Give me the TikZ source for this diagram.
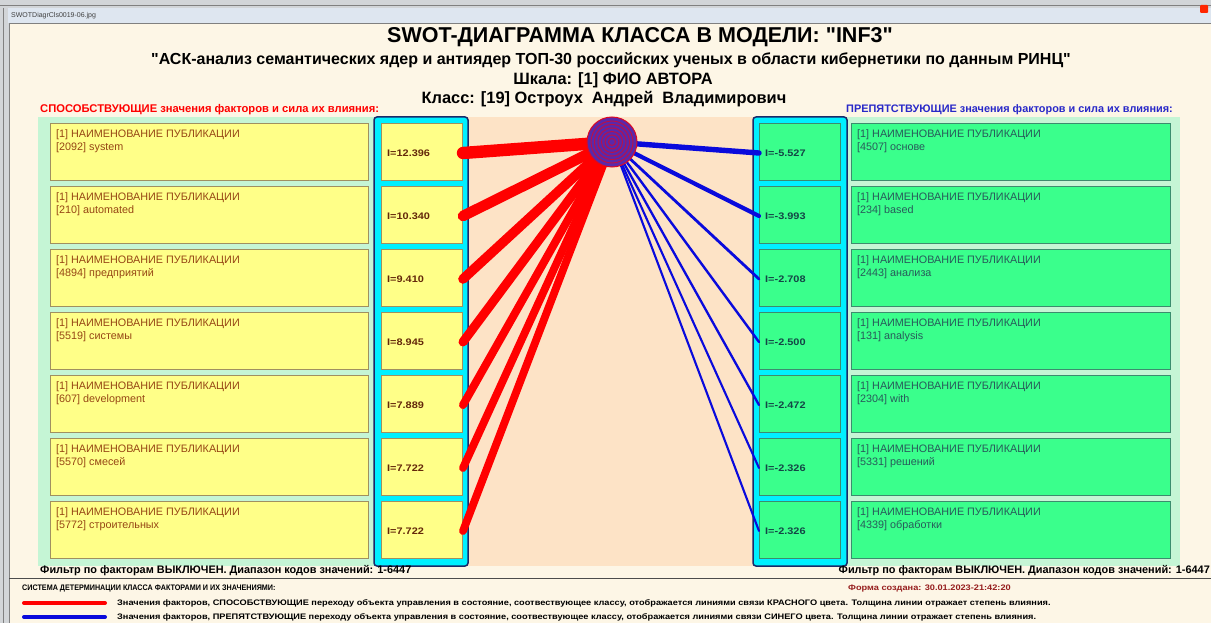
\documentclass[tikz,border=0pt]{standalone}
\usepackage{fontspec}
\setmainfont{Liberation Sans}[Ligatures=TeXOff]
\newfontfamily\condf{Liberation Sans}[FakeStretch=0.90,Ligatures=TeXOff]
\newfontfamily\widef{Liberation Sans}[FakeStretch=1.15,Ligatures=TeXOff]
\definecolor{cream}{RGB}{253,246,230}
\definecolor{peach}{RGB}{253,227,198}
\definecolor{palegreen}{RGB}{197,245,213}
\definecolor{ybox}{RGB}{255,255,136}
\definecolor{yborder}{RGB}{160,144,96}
\definecolor{gbox}{RGB}{58,255,140}
\definecolor{gborder}{RGB}{60,140,110}
\definecolor{cyancol}{RGB}{0,240,255}
\definecolor{navy}{RGB}{26,42,106}
\definecolor{ytext}{RGB}{150,70,20}
\definecolor{gtext}{RGB}{40,90,90}
\definecolor{yval}{RGB}{100,40,10}
\definecolor{gval}{RGB}{20,70,70}
\definecolor{redline}{RGB}{255,0,0}
\definecolor{blueline}{RGB}{10,10,220}
\definecolor{purp}{RGB}{90,40,170}
\definecolor{darkred}{RGB}{150,30,30}
\definecolor{headblue}{RGB}{40,40,200}
\definecolor{barcol}{RGB}{222,230,240}
\definecolor{framegrey}{RGB}{180,185,190}
\tikzset{
  leftbox/.style={draw=yborder, fill=ybox, line width=1pt, minimum width=318pt, minimum height=57pt, anchor=north west, inner sep=0pt},
  leftval/.style={draw=yborder, fill=ybox, line width=1pt, minimum width=81pt, minimum height=57pt, anchor=north west, inner sep=0pt},
  rightbox/.style={draw=gborder, fill=gbox, line width=1pt, minimum width=319pt, minimum height=57pt, anchor=north west, inner sep=0pt},
  rightval/.style={draw=gborder, fill=gbox, line width=1pt, minimum width=81pt, minimum height=57pt, anchor=north west, inner sep=0pt},
  boxtext/.style={anchor=north west, inner sep=0pt, align=left, font=\fontsize{10.8}{13}\selectfont},
  valtext/.style={anchor=west, inner sep=0pt, font=\widef\bfseries\fontsize{9.5}{11}\selectfont},
  column/.style={draw=navy, fill=cyancol, line width=1.5pt, rounded corners=3pt},
  redlink/.style={draw=redline, line cap=round},
  bluelink/.style={draw=blueline, line cap=round},
  legendtext/.style={anchor=west, inner sep=0pt, font=\widef\bfseries\fontsize{8}{9}\selectfont},
}
\begin{document}
\begin{tikzpicture}[x=1pt,y=-1pt]
\useasboundingbox (0,0) rectangle (1211,623);
% window frame
\fill[framegrey!60] (0,0) rectangle (1211,623);
\fill[barcol] (8,8) rectangle (1211,23);
\fill[cream] (10,24) rectangle (1211,623);
\draw[gray, line width=0.6pt] (0,5.5) -- (1211,5.5);
\draw[gray, line width=0.6pt] (3,8) -- (3,623);
\draw[gray, line width=0.6pt] (9,24) -- (9,623);
\draw[gray, line width=0.6pt] (9,23.5) -- (1211,23.5);
\node[anchor=west, inner sep=0pt, font=\fontsize{7}{8}\selectfont, text=black!75] (fname) at (11,15.5) {SWOTDiagrCls0019-06.jpg};
\node[fill=red!70!orange, minimum width=8pt, minimum height=8pt, inner sep=0pt, rounded corners=1pt] (closebtn) at (1204,9) {};
% headings
\node[font=\bfseries\fontsize{21.5}{24}\selectfont] (title) at (640,37) {SWOT-ДИАГРАММА КЛАССА В МОДЕЛИ: "INF3"};
\node[font=\bfseries\fontsize{16}{19}\selectfont] (subtitle) at (611,60) {"АСК-анализ семантических ядер и антиядер ТОП-30 российских ученых в области кибернетики по данным РИНЦ"};
\node[font=\bfseries\fontsize{16.4}{18}\selectfont] (scale) at (613,80) {Шкала: [1] ФИО АВТОРА};
\node[font=\bfseries\fontsize{16.4}{18}\selectfont] (class) at (604,99) {Класс: [19] Остроух\ \ Андрей\ \ Владимирович};
\node[anchor=west, inner sep=0pt, text=red, font=\bfseries\fontsize{11.2}{13}\selectfont] (lhead) at (40,110) {СПОСОБСТВУЮЩИЕ значения факторов и сила их влияния:};
\node[anchor=west, inner sep=0pt, text=headblue, font=\bfseries\fontsize{10.9}{13}\selectfont] (rhead) at (846,110) {ПРЕПЯТСТВУЮЩИЕ значения факторов и сила их влияния:};
% panels
\fill[palegreen] (38,117) rectangle (374,566);
\fill[palegreen] (847,117) rectangle (1180,566);
\fill[peach] (468,117) rectangle (753,566);
\draw[column] (374,117) rectangle (468,566);
\draw[column] (753,117) rectangle (847,566);
% circle centre
\coordinate (cc) at (612,142);
% left boxes
\foreach \code/\word/\val [count=\i from 0] in {
  2092/system/12.396, 210/automated/10.340, 4894/предприятий/9.410,
  5519/системы/8.945, 607/development/7.889, 5570/смесей/7.722,
  5772/строительных/7.722}{
  \node[leftbox] (L\i) at (50,{123+63*\i}) {};
  \node[boxtext, text=ytext] (LT\i) at ([xshift=6pt,yshift=-6pt]L\i.north west) {[1] НАИМЕНОВАНИЕ ПУБЛИКАЦИИ\\{}[\code] \word};
  \node[leftval] (LV\i) at (381,{123+63*\i}) {};
  \node[valtext, text=yval] (LVT\i) at ([xshift=6pt,yshift=-1.5pt]LV\i.west) {I=\val};
}
% right boxes
\foreach \code/\word/\val [count=\i from 0] in {
  4507/основе/-5.527, 234/based/-3.993, 2443/анализа/-2.708,
  131/analysis/-2.500, 2304/with/-2.472, 5331/решений/-2.326,
  4339/обработки/-2.326}{
  \node[rightbox] (R\i) at (851,{123+63*\i}) {};
  \node[boxtext, text=gtext] (RT\i) at ([xshift=6pt,yshift=-6pt]R\i.north west) {[1] НАИМЕНОВАНИЕ ПУБЛИКАЦИИ\\{}[\code] \word};
  \node[rightval] (RV\i) at (759,{123+63*\i}) {};
  \node[valtext, text=gval] (RVT\i) at ([xshift=6pt,yshift=-1.5pt]RV\i.west) {I=\val};
}
% links
\foreach \w [count=\i from 0] in {12.4,10.6,9.6,9.0,8.0,7.8,7.8}{
  \draw[redlink, line width=\w pt] ([yshift=-1pt]LV\i.east) -- (cc);
}
\foreach \w [count=\i from 0] in {5.4,4.2,2.8,2.4,2.3,2.1,2.1}{
  \draw[bluelink, line width=\w pt] (cc) -- ([yshift=-1pt]RV\i.west);
}
% class circle
\node[circle, fill=purp, draw=red!80!purp, line width=1pt, minimum size=50pt, inner sep=0pt] (C) at (cc) {};
\foreach \r in {3.5,7,10.5,14,17.5,21}{
  \draw[red!60!purp, line width=0.9pt] (cc) circle (\r pt);
}
% footer
\node[anchor=west, inner sep=0pt, font=\bfseries\fontsize{10.9}{12}\selectfont] (lfilter) at (40,571) {Фильтр по факторам ВЫКЛЮЧЕН. Диапазон кодов значений: 1-6447};
\node[anchor=east, inner sep=0pt, font=\bfseries\fontsize{10.9}{12}\selectfont] (rfilter) at (1210,571) {Фильтр по факторам ВЫКЛЮЧЕН. Диапазон кодов значений: 1-6447};
\draw[black!70, line width=0.8pt] (9,578) -- (1211,578);
\node[anchor=west, inner sep=0pt, font=\condf\bfseries\fontsize{8}{9}\selectfont] (legtitle) at (22,589) {СИСТЕМА ДЕТЕРМИНАЦИИ КЛАССА ФАКТОРАМИ И ИХ ЗНАЧЕНИЯМИ:};
\node[anchor=west, inner sep=0pt, text=darkred, font=\widef\bfseries\fontsize{8}{9}\selectfont] (created) at (848,589) {Форма создана: 30.01.2023-21:42:20};
\coordinate (r1) at (24,603); \coordinate (r2) at (105,603);
\coordinate (b1) at (24,617); \coordinate (b2) at (105,617);
\draw[redlink, line width=4pt] (r1) -- (r2);
\draw[bluelink, line width=4pt] (b1) -- (b2);
\node[legendtext] (leg1) at (117,603) {Значения факторов, СПОСОБСТВУЮЩИЕ переходу объекта управления в состояние, соотвествующее классу, отображается линиями связи КРАСНОГО цвета. Толщина линии отражает степень влияния.};
\node[legendtext] (leg2) at (117,617) {Значения факторов, ПРЕПЯТСТВУЮЩИЕ переходу объекта управления в состояние, соотвествующее классу, отображается линиями связи СИНЕГО цвета. Толщина линии отражает степень влияния.};
\end{tikzpicture}
\end{document}
